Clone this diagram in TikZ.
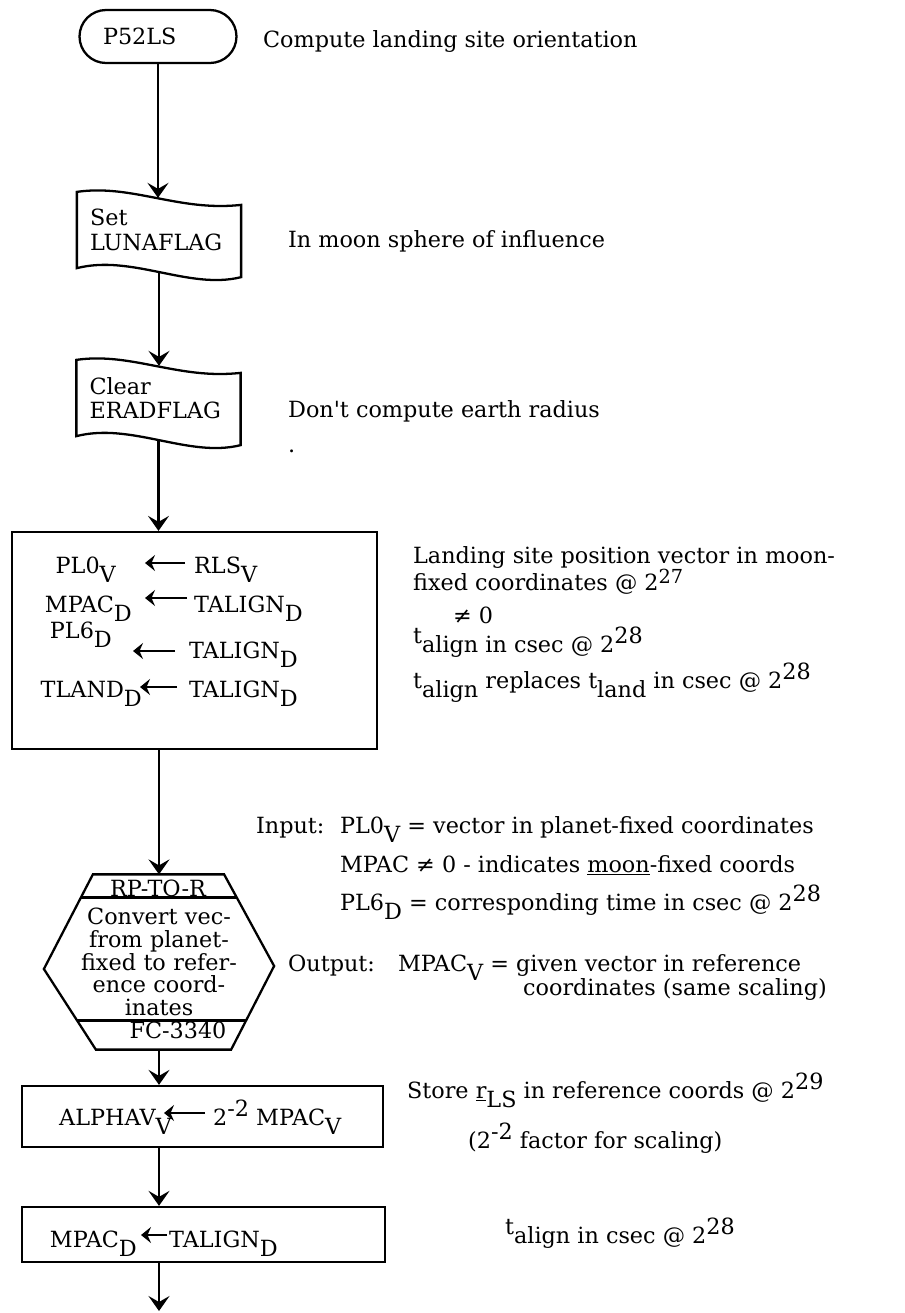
\documentclass[tikz,border=0pt]{standalone}
\usepackage{fontspec}
\setmainfont{DejaVu Serif}
\usetikzlibrary{arrows.meta,positioning,calc}

% typewriter style half-line shifts
\newcommand{\dnx}[1]{\raisebox{-0.42em}{#1}}
\newcommand{\upx}[1]{\raisebox{0.36em}{#1}}

\begin{document}
\begin{tikzpicture}[
  x=0.02cm, y=-0.02cm,
  font=\fontsize{12.7}{15}\selectfont,
  line width=1.3pt,
  term/.style={draw, rounded corners=0.53cm, minimum width=3.14cm, minimum height=1.06cm, text width=2.2cm, inner xsep=0.47cm, align=left},
  flag/.style={minimum width=3.24cm, minimum height=1.48cm, text width=2.76cm, inner xsep=0.24cm, align=left, font=\fontsize{12.7}{14}\selectfont,
    append after command={\pgfextra{\let\flg\tikzlastnode
      \draw (\flg.north west) .. controls ($(\flg.north west)+(55,-8)$) and ($(\flg.north east)+(-62,20)$) .. ($(\flg.north east)+(0,13)$)
        -- ($(\flg.south east)+(0,9)$) .. controls ($(\flg.south east)+(-52,22)$) and ($(\flg.south west)+(55,-14)$) .. (\flg.south west) -- cycle;}}},
  hexbody/.style={minimum width=4.56cm, minimum height=3.46cm, text width=4.2cm, align=center, font=\fontsize{12.7}{12.9}\selectfont},
  txt/.style={anchor=base west, inner sep=0pt},
  arr/.style={-{Stealth[length=0.3cm, width=0.42cm, inset=0.12cm]}},
  larr/.style={-{Stealth[length=0.2cm, width=0.32cm, inset=0.07cm]}}
]
  \useasboundingbox (0,0) rectangle (904,1313);

  % Start and flags
  \node[term] (p52) at (158,36.5) {P52LS};
  \node[txt] (c1) at (262,47) {Compute landing site orientation};

  \node[flag] (set) at (159,230) {Set\\LUNAFLAG};
  \node[txt] (c2) at (287,247) {In moon sphere of influence};

  \node[flag] (clr) at (158.5,398) {Clear\\ERADFLAG};
  \node[txt] (c3) at (287,417) {Don\textquotesingle t compute earth radius};
  \node[txt] (dot) at (287,452) {.};

  % Initial settings
  \node[draw, minimum width=7.3cm, minimum height=4.34cm] (init) at (194.5,640.5) {};
  \node[txt, anchor=base east] (pl0) at (117,573) {PL0\dnx{V}};
  \node[txt] (rls) at (193,573) {RLS\dnx{V}};
  \node[txt, anchor=base east] (mpc) at (133,612) {MPAC\dnx{D}};
  \node[txt] (tal2) at (193,612) {TALIGN\dnx{D}};
  \node[txt, anchor=base east] (pl6) at (113,638) {PL6\dnx{D}};
  \node[txt] (tal3) at (188,658) {TALIGN\dnx{D}};
  \node[txt, anchor=base east] (tld) at (143,697) {TLAND\dnx{D}};
  \node[txt] (tal4) at (188,697) {TALIGN\dnx{D}};
  \draw[larr, shorten <=0.16cm, shorten >=0.56cm] ($(rls.base west)+(0,-10)$) -- ($(rls.base west -| pl0.base east)+(0,-10)$);
  \draw[larr, shorten <=0.12cm, shorten >=0.24cm] ($(tal2.base west)+(0,-14)$) -- ($(tal2.base west -| mpc.base east)+(0,-14)$);
  \draw[larr, shorten <=0.26cm, shorten >=0.4cm] ($(tal3.base west)+(0,-7)$) -- ($(tal3.base west -| pl6.base east)+(0,-7)$);
  \draw[larr, shorten <=0.22cm, shorten >=-0.06cm] ($(tal4.base west)+(0,-10)$) -- ($(tal4.base west -| tld.base east)+(0,-10)$);

  \node[txt] (c4a) at (412,563) {Landing site position vector in moon-};
  \node[txt] (c4b) at (412,590) {fixed coordinates @ 2\raisebox{0.3em}{\fontsize{11}{11}\selectfont 27}};
  \node[txt] (c4c) at (452,623) {≠ 0};
  \node[txt] (c4d) at (412,652) {\upx{t}align in csec @ 2\upx{28}};
  \node[txt] (c4e) at (412,688) {t\dnx{align} replaces t\dnx{land} in csec @ 2\upx{28}};

  % RP-TO-R call
  \node[hexbody] (hex) at (159,962) {Convert vec-\\from planet-\\fixed to refer-\\ence coord-\\inates};
  \draw ($(hex.north west)+(49,0)$) -- ($(hex.north east)+(-50,0)$) -- ($(hex.east)+(0,4)$)
    -- ($(hex.south east)+(-43,0)$) -- ($(hex.south west)+(52,0)$) -- ($(hex.west)+(0,7)$) -- cycle;
  \draw ($(hex.north west)+(37,23)$) -- ($(hex.north east)+(-37,23)$);
  \draw ($(hex.south west)+(33,-29)$) -- ($(hex.south east)+(-28,-29)$);
  \node[txt, anchor=base] (rp) at (158,896) {RP-TO-R};
  \node[txt, anchor=base] (fc) at (178,1038) {FC-3340};

  \node[txt] (inp) at (255,833) {Input:};
  \node[txt] (in1) at (339,833) {PL0\dnx{V} = vector in planet-fixed coordinates};
  \node[txt] (in2) at (339,872) {MPAC ≠ 0 - indicates \underline{moon}-fixed coords};
  \node[txt] (in3) at (339,910) {PL6\dnx{D} = corresponding time in csec @ 2\upx{28}};
  \node[txt] (out) at (287,971) {Output:};
  \node[txt] (ou1) at (397,971) {MPAC\dnx{V} = given vector in reference};
  \node[txt] (ou2) at (522,995) {coordinates (same scaling)};

  % Store landing site
  \node[draw, minimum width=7.22cm, minimum height=1.22cm] (alpha) at (202.5,1116.5) {};
  \node[txt, anchor=base east] (alv) at (173,1125) {ALPHAV\dnx{V}};
  \node[txt] (alr) at (212,1125) {2\upx{-2} MPAC\dnx{V}};
  \draw[larr, shorten <=0.14cm, shorten >=-0.18cm] ($(alr.base west)+(0,-12)$) -- ($(alr.base west -| alv.base east)+(0,-12)$);
  \node[txt] (c5a) at (406,1098) {Store \underline{r}\dnx{LS} in reference coords @ 2\upx{29}};
  \node[txt] (c5b) at (467,1148) {(2\upx{-2} factor for scaling)};

  \node[draw, minimum width=7.26cm, minimum height=1.1cm] (mpac) at (203.5,1234.5) {};
  \node[txt, anchor=base east] (mpd) at (138,1247) {MPAC\dnx{D}};
  \node[txt] (tal5) at (168,1247) {TALIGN\dnx{D}};
  \draw[larr, shorten <=0.02cm, shorten >=0.06cm] ($(tal5.base west)+(0,-12)$) -- ($(tal5.base west -| mpd.base east)+(0,-12)$);
  \node[txt] (c6) at (504,1243) {\upx{t}align in csec @ 2\upx{28}};

  % Flow
  \draw[arr, shorten >=-0.12cm] (p52.south) -- (p52.south |- set.north);
  \draw[arr, shorten <=0.08cm, shorten >=-0.12cm] (set.south) -- (set.south |- clr.north);
  \draw[arr, shorten <=0.08cm] (clr.south) -- (clr.south |- init.north);
  \draw[arr] (hex.north |- init.south) -- (hex.north);
  \draw[arr] (hex.south) -- (hex.south |- alpha.north);
  \draw[arr] (hex.south |- alpha.south) -- (hex.south |- mpac.north);
  \coordinate (exit) at (159,1311);
  \draw[arr] (exit |- mpac.south) -- (exit);
\end{tikzpicture}
\end{document}
